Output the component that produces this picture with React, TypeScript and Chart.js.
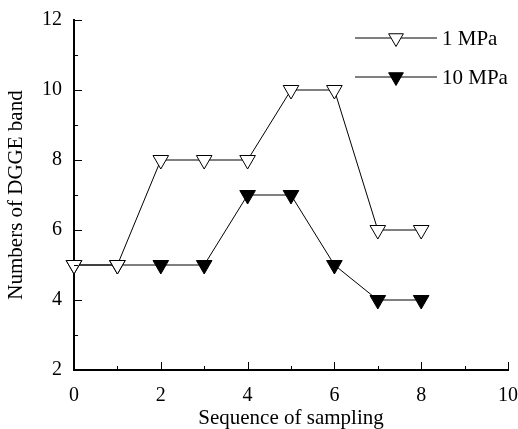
import React, { useEffect, useRef } from "react";
import { Chart, registerables } from "chart.js";

Chart.register(...registerables);

const samplingSequence = [0, 1, 2, 3, 4, 5, 6, 7, 8];
const bands1MPa = [5, 5, 8, 8, 8, 10, 10, 6, 6];
const bands10MPa = [5, 5, 5, 5, 7, 7, 5, 4, 4];
const seriesNames = ["1 MPa", "10 MPa"];
const xTitle = "Sequence of sampling";
const yTitle = "Numbers of DGGE band";

const FONT = "'Liberation Serif', 'Times New Roman', serif";

const innerTicks = {
  id: "innerTicks",
  afterDraw(chart: any) {
    const ctx = chart.ctx;
    const xs = chart.scales.x;
    const ys = chart.scales.y;
    const area = chart.chartArea;
    ctx.save();
    ctx.strokeStyle = "#000";
    ctx.lineWidth = 1;
    for (let v = 0; v <= 10; v += 1) {
      const px = Math.round(xs.getPixelForValue(v)) + 0.5;
      const len = v % 2 === 0 ? 8 : 4;
      ctx.beginPath();
      ctx.moveTo(px, area.bottom);
      ctx.lineTo(px, area.bottom - len);
      ctx.stroke();
    }
    for (let v = 2; v <= 12; v += 1) {
      const py = Math.round(ys.getPixelForValue(v)) + 0.5;
      const len = v % 2 === 0 ? 8 : 4;
      ctx.beginPath();
      ctx.moveTo(area.left, py);
      ctx.lineTo(area.left + len, py);
      ctx.stroke();
    }
    ctx.restore();
  },
};

const customLegend = {
  id: "customLegend",
  afterDraw(chart: any) {
    const ctx = chart.ctx;
    const area = chart.chartArea;
    const x0 = area.right - 153;
    const x1 = area.right - 71;
    const mx = area.right - 112;
    const tx = area.right - 66;
    const rows = [area.top + 18, area.top + 57];
    ctx.save();
    chart.data.datasets.forEach((ds: any, i: number) => {
      const y = rows[i];
      ctx.strokeStyle = "#000";
      ctx.lineWidth = 1;
      ctx.beginPath();
      ctx.moveTo(x0, y);
      ctx.lineTo(x1, y);
      ctx.stroke();
      const r = 8.5;
      ctx.beginPath();
      ctx.moveTo(mx, y + r);
      ctx.lineTo(mx - r * 0.866, y - r / 2);
      ctx.lineTo(mx + r * 0.866, y - r / 2);
      ctx.closePath();
      ctx.fillStyle = ds.pointBackgroundColor;
      ctx.fill();
      ctx.stroke();
      ctx.fillStyle = "#000";
      ctx.font = `21px ${FONT}`;
      ctx.textAlign = "left";
      ctx.textBaseline = "middle";
      ctx.fillText(ds.label, tx, y + 1);
    });
    ctx.restore();
  },
};

export default function App() {
  const ref = useRef<HTMLCanvasElement>(null);
  useEffect(() => {
    if (!ref.current) return;
    const mk = (ys: number[]) => samplingSequence.map((x, i) => ({ x, y: ys[i] }));
    const chart = new Chart(ref.current, {
      type: "scatter",
      data: {
        datasets: [
          {
            label: seriesNames[0],
            data: mk(bands1MPa),
            showLine: true,
            borderColor: "#000",
            borderWidth: 1,
            pointStyle: "triangle",
            rotation: 180,
            pointRadius: 9,
            pointBorderWidth: 1,
            pointBorderColor: "#000",
            pointBackgroundColor: "#fff",
            clip: false,
          } as any,
          {
            label: seriesNames[1],
            data: mk(bands10MPa),
            showLine: true,
            borderColor: "#000",
            borderWidth: 1,
            pointStyle: "triangle",
            rotation: 180,
            pointRadius: 9,
            pointBorderWidth: 1,
            pointBorderColor: "#000",
            pointBackgroundColor: "#000",
            clip: false,
          } as any,
        ],
      },
      options: {
        animation: false,
        responsive: false,
        maintainAspectRatio: false,
        layout: { padding: { top: 20, right: 10, left: 0, bottom: 0 } },
        plugins: { legend: { display: false }, tooltip: { enabled: false } },
        scales: {
          x: {
            type: "linear",
            min: 0,
            max: 10,
            grid: { display: false, drawTicks: false },
            border: { display: true, color: "#000", width: 2 },
            ticks: { stepSize: 2, color: "#000", padding: 14, font: { family: FONT, size: 20 } },
            title: {
              display: true,
              text: xTitle,
              color: "#000",
              font: { family: FONT, size: 21, lineHeight: 1 },
              padding: { top: 0, bottom: 0 },
            },
            afterFit: (s: any) => {
              s.height = 59;
              s.paddingLeft = 0;
              s.paddingRight = 0;
            },
          },
          y: {
            type: "linear",
            min: 2,
            max: 12,
            grid: { display: false, drawTicks: false },
            border: { display: true, color: "#000", width: 2 },
            ticks: { stepSize: 2, color: "#000", padding: 12, font: { family: FONT, size: 20 } },
            title: {
              display: true,
              text: yTitle,
              color: "#000",
              font: { family: FONT, size: 21, lineHeight: 1 },
              padding: { top: 6, bottom: 0 },
            },
            afterFit: (s: any) => {
              s.width = 74;
              s.paddingTop = 0;
              s.paddingBottom = 0;
            },
          },
        },
      },
      plugins: [innerTicks, customLegend],
    });
    return () => chart.destroy();
  }, []);
  return (
    <div style={{ position: "absolute", left: 0, top: 0, width: 518, height: 429, background: "#fff" }}>
      <canvas ref={ref} width={518} height={429} style={{ display: "block" }} />
    </div>
  );
}
